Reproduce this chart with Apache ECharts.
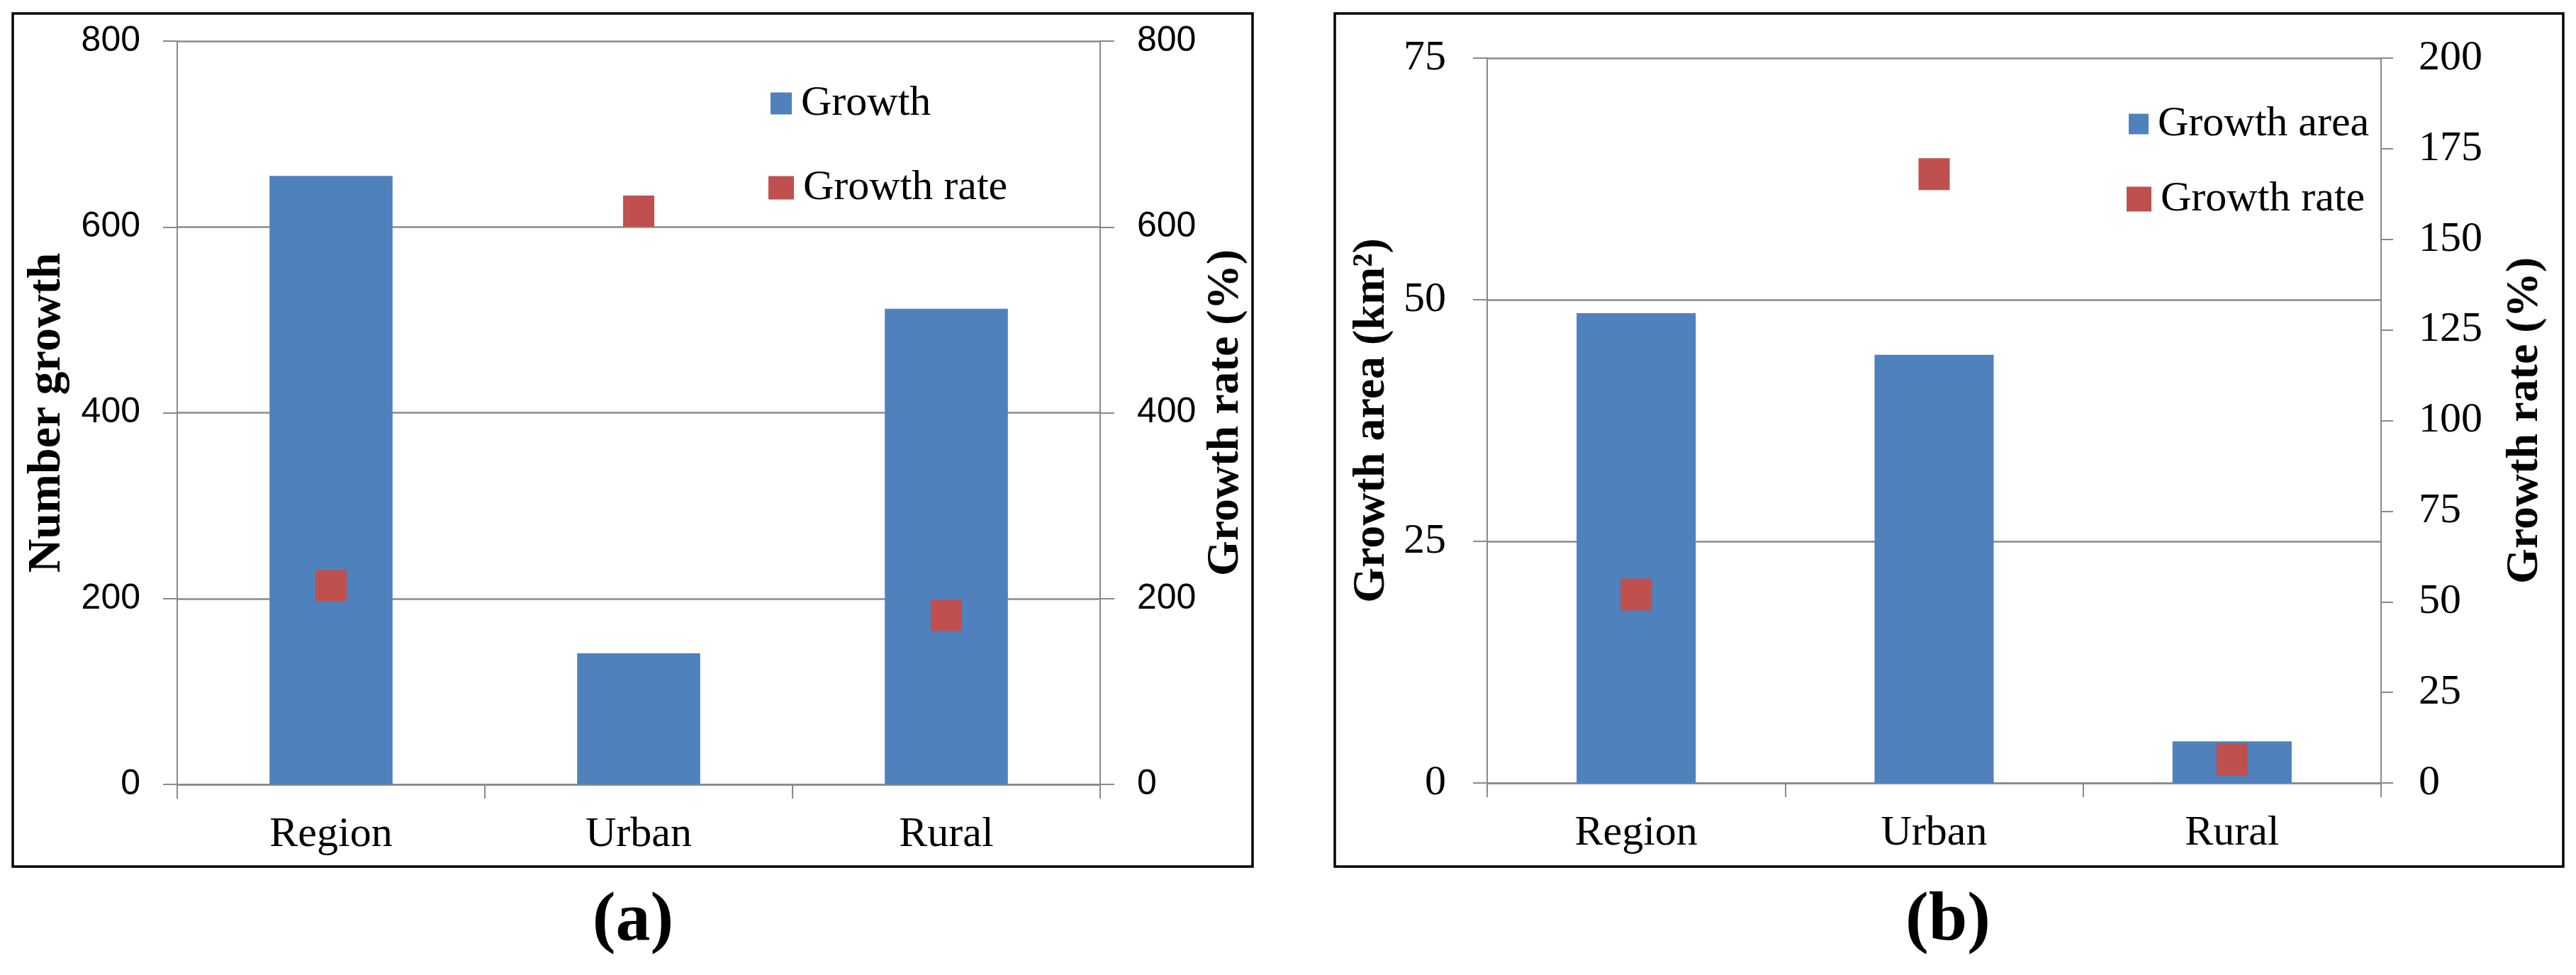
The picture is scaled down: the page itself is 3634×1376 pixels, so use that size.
<!DOCTYPE html>
<html>
<head>
<meta charset="utf-8">
<script src="https://cdn.jsdelivr.net/npm/echarts@6/dist/echarts.min.js"></script>
<style>
html,body{margin:0;padding:0;background:#fff;}
#chart{width:3634px;height:1376px;}
</style>
</head>
<body>
<div id="chart"></div>
<script>
// ---- data ----
const categories = ['Region', 'Urban', 'Rural'];
const growthNumber = [655, 141, 512];      // panel (a) bars, left axis
const growthRateA = [214, 617, 182];       // panel (a) markers, right axis (%)
const growthArea = [48.6, 44.3, 4.3];      // panel (b) bars, left axis (km²)
const growthRateB = [52, 168, 6.5];        // panel (b) markers, right axis (%)
const panelLabels = ['(a)', '(b)'];

const BLUE = '#4F81BD';
const RED = '#C0504D';
const GRAY = '#898989';
const SERIF = '"Liberation Serif", "Times New Roman", serif';
const SANS = '"Liberation Sans", Arial, sans-serif';

const chart = echarts.init(document.getElementById('chart'), null, {renderer: 'canvas'});

function catAxis(gridIndex) {
  return {
    type: 'category', gridIndex: gridIndex, data: categories, boundaryGap: true,
    axisLine: {show: true, lineStyle: {color: GRAY, width: 2.5}},
    axisTick: {show: true, inside: false, length: 20, interval: 0, lineStyle: {color: GRAY, width: 2}},
    axisLabel: {color: '#000', fontFamily: SERIF, fontSize: 60, margin: 41, interval: 0},
    splitLine: {show: false}
  };
}

function valAxis(o) {
  return Object.assign({
    type: 'value', min: 0, nameLocation: 'middle', nameRotate: 90,
    nameTextStyle: {color: '#000', fontFamily: SERIF, fontWeight: 'bold', fontSize: 64},
    axisLine: {show: true, lineStyle: {color: GRAY, width: 2}},
    axisTick: {show: true, inside: false, length: 20, lineStyle: {color: GRAY, width: 2}},
    splitLine: {show: false}
  }, o);
}

const legendText = {color: '#000', fontFamily: SERIF, fontSize: 60, padding: [0, 0, 0, 8]};

const option = {
  animation: false,
  backgroundColor: '#fff',
  grid: [
    {left: 250, right: 3634 - 1552, top: 58, bottom: 1376 - 1107},
    {left: 2098, right: 3634 - 3359, top: 82, bottom: 1376 - 1105}
  ],
  xAxis: [catAxis(0), catAxis(1)],
  yAxis: [
    valAxis({gridIndex: 0, position: 'left', max: 800, interval: 200, name: 'Number growth', nameGap: 150,
      nameTextStyle: {color: '#000', fontFamily: SERIF, fontWeight: 'bold', fontSize: 66},
      axisLabel: {color: '#000', fontFamily: SANS, fontSize: 50, margin: 52},
      splitLine: {show: true, lineStyle: {color: GRAY, width: 2.5}}}),
    valAxis({gridIndex: 0, position: 'right', max: 800, interval: 200, name: 'Growth rate (%)', nameGap: 145,
      axisLabel: {color: '#000', fontFamily: SANS, fontSize: 50, margin: 52}}),
    valAxis({gridIndex: 1, position: 'left', max: 75, interval: 25, name: 'Growth area (km²)', nameGap: 131,
      axisLabel: {color: '#000', fontFamily: SERIF, fontSize: 60, margin: 58},
      splitLine: {show: true, lineStyle: {color: GRAY, width: 2.5}}}),
    valAxis({gridIndex: 1, position: 'right', max: 200, interval: 25, name: 'Growth rate (%)', nameGap: 171,
      axisTick: {show: true, inside: false, length: 17, lineStyle: {color: GRAY, width: 2}},
      axisLabel: {color: '#000', fontFamily: SERIF, fontSize: 60, margin: 53}})
  ],
  legend: [
    {data: [{name: 'Growth', icon: 'rect'}], left: 1087, top: 116, itemWidth: 30, itemHeight: 31, padding: 0, selectedMode: false, textStyle: legendText},
    {data: [{name: 'Growth rate', icon: 'rect'}], left: 1084, top: 235, itemWidth: 36, itemHeight: 33, padding: 0, selectedMode: false, textStyle: legendText},
    {data: [{name: 'Growth area', icon: 'rect'}], left: 3003, top: 145, itemWidth: 28, itemHeight: 29, padding: 0, selectedMode: false, textStyle: legendText},
    {data: [{name: 'Growth rate', icon: 'rect'}], left: 3000, top: 251, itemWidth: 35, itemHeight: 35, padding: 0, selectedMode: false, textStyle: legendText}
  ],
  series: [
    {name: 'Growth', type: 'bar', xAxisIndex: 0, yAxisIndex: 0, data: growthNumber, barWidth: '40%',
      itemStyle: {color: BLUE}, z: 2},
    {name: 'Growth rate', type: 'scatter', xAxisIndex: 0, yAxisIndex: 1, data: growthRateA,
      symbol: 'rect', symbolSize: 44, itemStyle: {color: RED, opacity: 1}, z: 3},
    {name: 'Growth area', type: 'bar', xAxisIndex: 1, yAxisIndex: 2, data: growthArea, barWidth: '40%',
      itemStyle: {color: BLUE}, z: 2},
    {name: 'Growth rate', type: 'scatter', xAxisIndex: 1, yAxisIndex: 3, data: growthRateB,
      symbol: 'rect', symbolSize: [44, 45], itemStyle: {color: RED, opacity: 1}, z: 3}
  ],
  graphic: [
    {type: 'rect', shape: {x: 18, y: 19, width: 1749, height: 1204}, style: {fill: 'none', stroke: '#000', lineWidth: 3.5}, z: 10},
    {type: 'rect', shape: {x: 1883, y: 19, width: 1733, height: 1204}, style: {fill: 'none', stroke: '#000', lineWidth: 3.5}, z: 10},
    {type: 'text', x: 893, y: 1301, style: {text: panelLabels[0], fill: '#000', font: 'bold 98px ' + SERIF, textAlign: 'center', textVerticalAlign: 'middle'}},
    {type: 'text', x: 2748, y: 1301, style: {text: panelLabels[1], fill: '#000', font: 'bold 98px ' + SERIF, textAlign: 'center', textVerticalAlign: 'middle'}}
  ]
};
chart.setOption(option);
</script>
</body>
</html>
